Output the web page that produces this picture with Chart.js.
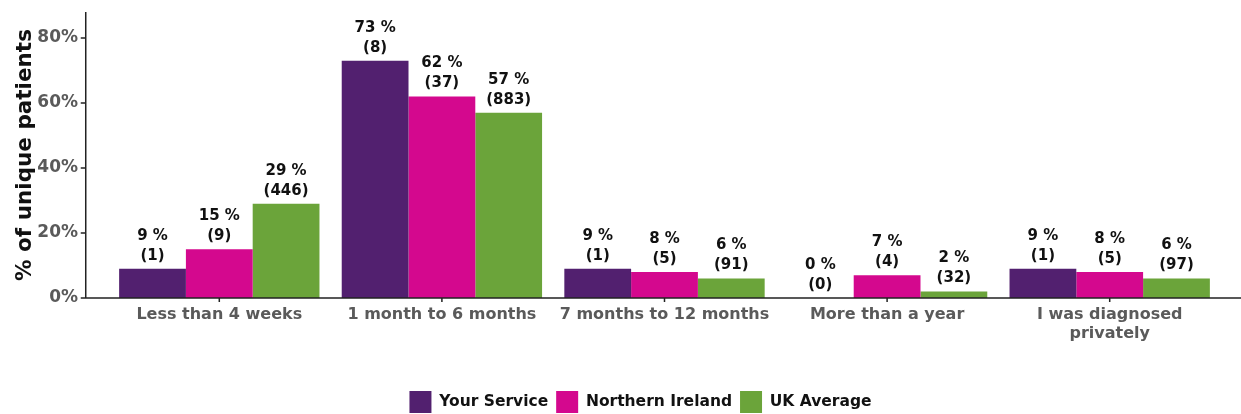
<!DOCTYPE html>
<html>
<head>
<meta charset="utf-8">
<script src="https://cdn.jsdelivr.net/npm/chart.js@4.4.1/dist/chart.umd.min.js"></script>
<style>
  html, body { margin: 0; padding: 0; background: #fff; }
  #wrap { width: 1241px; height: 414px; position: relative; }
</style>
</head>
<body>
<div id="wrap"><canvas id="chart"></canvas></div>
<script>
// ── dados ──
const categories = [
  'Less than 4 weeks',
  '1 month to 6 months',
  '7 months to 12 months',
  'More than a year',
  ['I was diagnosed', 'privately']
];
const yourServicePct = [9, 73, 9, 0, 9];
const yourServiceN   = [1, 8, 1, 0, 1];
const northernIrelandPct = [15, 62, 8, 7, 8];
const northernIrelandN   = [9, 37, 5, 4, 5];
const ukAveragePct = [29, 57, 6, 2, 6];
const ukAverageN   = [446, 883, 91, 32, 97];
const yTicks = [0, 20, 40, 60, 80];

const FONT = '"DejaVu Sans", sans-serif';
const COLORS = { ys: '#52206f', ni: '#d4088e', uk: '#6ba43a' };
const counts = [yourServiceN, northernIrelandN, ukAverageN];

/* linhas dos eixos estendidas (expansão estilo ggplot) + rótulos das barras */
const axesAndLabels = {
  id: 'axesAndLabels',
  afterLayout(chart){
    // legenda do original fica um pouco à direita do centro
    if(chart.legend) chart.legend.left += 60;
  },
  afterDatasetsDraw(chart){
    const { ctx, chartArea: a, scales: { x, y } } = chart;
    const unit = (a.right - a.left) / categories.length;
    const axisX = a.left - 0.1 * unit;
    ctx.save();
    ctx.strokeStyle = '#222';
    ctx.lineWidth = 1.5;
    ctx.beginPath();
    ctx.moveTo(axisX, a.top); ctx.lineTo(axisX, a.bottom);
    ctx.moveTo(axisX, a.bottom); ctx.lineTo(chart.width, a.bottom);
    yTicks.forEach(t => { const py = y.getPixelForValue(t); ctx.moveTo(axisX - 5, py); ctx.lineTo(axisX, py); });
    categories.forEach((c, i) => { const px = x.getPixelForValue(i); ctx.moveTo(px, a.bottom); ctx.lineTo(px, a.bottom + 4); });
    ctx.stroke();

    ctx.fillStyle = '#111';
    ctx.font = `bold 15px ${FONT}`;
    ctx.textAlign = 'center';
    ctx.textBaseline = 'middle';
    chart.data.datasets.forEach((ds, di) => {
      chart.getDatasetMeta(di).data.forEach((bar, i) => {
        ctx.fillText(`${ds.data[i]} %`, bar.x, bar.y - 33);
        ctx.fillText(`(${counts[di][i]})`, bar.x, bar.y - 13);
      });
    });
    ctx.restore();
  }
};

new Chart(document.getElementById('chart'), {
  type: 'bar',
  data: {
    labels: categories,
    datasets: [
      { label: 'Your Service', data: yourServicePct, backgroundColor: COLORS.ys },
      { label: 'Northern Ireland', data: northernIrelandPct, backgroundColor: COLORS.ni },
      { label: 'UK Average', data: ukAveragePct, backgroundColor: COLORS.uk },
    ].map(d => ({ barPercentage: 1, categoryPercentage: 0.9, borderWidth: 0, ...d }))
  },
  options: {
    responsive: true, maintainAspectRatio: false, animation: false,
    layout: { padding: { top: 12, right: 20, bottom: -9, left: 0 } },
    plugins: {
      tooltip: { enabled: false },
      legend: {
        position: 'bottom',
        labels: { color: '#111', boxWidth: 22, boxHeight: 22, padding: 8, font: { family: FONT, size: 15.5, weight: 'bold' } }
      }
    },
    scales: {
      x: {
        grid: { display: false, drawTicks: false },
        border: { display: false },
        ticks: { color: '#5a5a5a', padding: 7, maxRotation: 0, autoSkip: false, font: { family: FONT, size: 16, weight: 'bold' } },
        afterFit(s){ s.height = 85; s.paddingLeft = 0; s.paddingRight = 0; }
      },
      y: {
        min: 0, max: 88,
        grid: { display: false, drawTicks: false },
        border: { display: false },
        ticks: { stepSize: 20, color: '#5a5a5a', padding: 30, font: { family: FONT, size: 17, weight: 'bold' }, callback: v => v + '%' },
        afterBuildTicks(s){ s.ticks = s.ticks.filter(t => yTicks.includes(t.value)); },
        title: { display: true, text: '% of unique patients', color: '#111', padding: { top: 13, bottom: 0 }, font: { family: FONT, size: 21.5, weight: 'bold' } },
        afterFit(s){ s.width = 108; s.paddingTop = 0; s.paddingBottom = 0; }
      }
    }
  },
  plugins: [axesAndLabels]
});
</script>
</body>
</html>
